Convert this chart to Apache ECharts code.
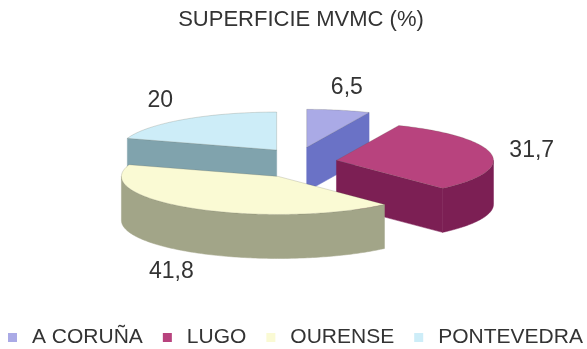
<!DOCTYPE html>
<html>
<head>
<meta charset="utf-8">
<script src="https://cdn.jsdelivr.net/npm/echarts@6/dist/echarts.min.js"></script>
<style>
  html, body { margin: 0; padding: 0; background: #fff; }
  #chart { width: 587px; height: 349px; }
</style>
</head>
<body>
<div id="chart"></div>
<script>
// Share of MVMC surface per province (%)
const categories = ['A CORUÑA', 'LUGO', 'OURENSE', 'PONTEVEDRA'];
const shares = [6.5, 31.7, 41.8, 20];
const topColors = ['#aaaae6', '#b8437e', '#fafad4', '#cdedf8'];
const sideColors = ['#6a72c6', '#7c1f54', '#a2a588', '#80a3ad'];
// painting order: back slices first, front slice last
const stackOrder = [2, 3, 4, 1];

// layout of the tilted, exploded pie (pixels)
const PIE = { cx: 299, cy: 163, rx: 157, ry: 38, depth: 44, explodeX: 38, explodeY: 16, labelRx: 198, labelRy: 61 };

const total = shares.reduce((a, b) => a + b, 0);
const starts = [];
let acc = 0;
shares.forEach(v => { starts.push(acc / total * Math.PI * 2); acc += v; });

function rim(c, a, dy) {
  return [c[0] + PIE.rx * Math.sin(a), c[1] - PIE.ry * Math.cos(a) + (dy || 0)];
}
function arc(c, a0, a1, dy) {
  const pts = [];
  const n = Math.max(2, Math.ceil((a1 - a0) / (Math.PI / 180)));
  for (let k = 0; k <= n; k++) pts.push(rim(c, a0 + (a1 - a0) * k / n, dy));
  return pts;
}

function renderSlice(i) {
  return function (params, api) {
    const value = api.value(0);
    const a0 = starts[i];
    const a1 = a0 + value / total * Math.PI * 2;
    const mid = (a0 + a1) / 2;
    const c = [PIE.cx + PIE.explodeX * Math.sin(mid), PIE.cy - PIE.explodeY * Math.cos(mid)];
    const D = PIE.depth;
    const top = api.visual('color');
    const side = sideColors[i];
    const children = [];

    // radial cut faces that turn toward the viewer
    const face = (a) => {
      const p = rim(c, a);
      return {
        type: 'polygon',
        shape: { points: [c, p, [p[0], p[1] + D], [c[0], c[1] + D]] },
        style: { fill: side, stroke: side, lineWidth: 0.5 }
      };
    };
    if (Math.sin(a0) < -1e-6) children.push(face(a0));
    if (Math.sin(a1) > 1e-6) children.push(face(a1));

    // outer wall, front half only
    const s = Math.max(a0, Math.PI / 2);
    const t = Math.min(a1, Math.PI * 1.5);
    if (t > s) {
      const upper = arc(c, s, t);
      const lower = arc(c, s, t, D).reverse();
      children.push({
        type: 'polygon',
        shape: { points: upper.concat(lower) },
        style: { fill: side, stroke: side, lineWidth: 0.5 }
      });
    }

    // top face
    children.push({
      type: 'polygon',
      shape: { points: [c].concat(arc(c, a0, a1)) },
      style: { fill: top, stroke: 'rgba(90,90,70,0.35)', lineWidth: 0.6 }
    });

    // value label
    const lx = c[0] + PIE.labelRx * Math.sin(mid);
    const ly = c[1] - PIE.labelRy * Math.cos(mid) + (Math.cos(mid) < 0 ? D : 0);
    children.push({
      type: 'text',
      style: {
        text: String(value).replace('.', ','),
        x: lx, y: ly,
        align: 'center', verticalAlign: 'middle',
        fill: '#333', fontSize: 23, fontFamily: 'Liberation Sans'
      }
    });
    return { type: 'group', children };
  };
}

const chart = echarts.init(document.getElementById('chart'), null, { renderer: 'canvas' });
chart.setOption({
  animation: false,
  backgroundColor: '#fff',
  title: {
    text: 'SUPERFICIE MVMC (%)',
    left: 301, textAlign: 'center', top: 9, padding: 0,
    textStyle: { fontSize: 22, fontWeight: 'normal', fontFamily: 'Liberation Sans', color: '#333' }
  },
  legend: {
    data: categories,
    left: 8, top: 327, padding: 0,
    itemGap: 20, itemWidth: 19, itemHeight: 9,
    icon: 'path://M0,0H9V9H0ZM19,0L19,9',
    itemStyle: { borderWidth: 0 },
    selectedMode: false,
    textStyle: { fontSize: 21, fontFamily: 'Liberation Sans', color: '#333' }
  },
  series: categories.map((name, i) => ({
    type: 'custom',
    name,
    coordinateSystem: 'none',
    z: stackOrder[i],
    silent: true,
    itemStyle: { color: topColors[i] },
    data: [shares[i]],
    renderItem: renderSlice(i)
  }))
});
</script>
</body>
</html>
